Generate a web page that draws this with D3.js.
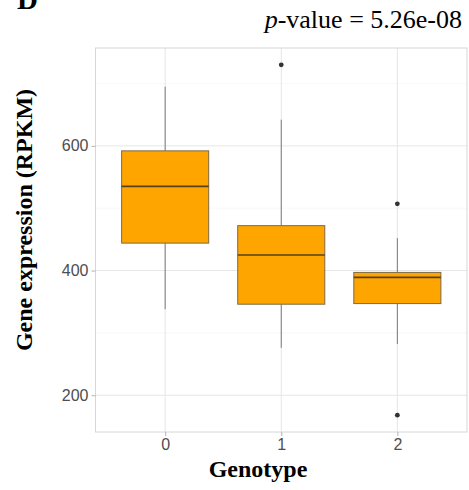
<!DOCTYPE html>
<html>
<head>
<meta charset="utf-8">
<script src="https://cdn.jsdelivr.net/npm/d3@7"></script>
<style>
  body { margin: 0; background: #fff; }
  svg { display: block; }
</style>
</head>
<body>
<script>
// box plot summary per genotype
let genotypes = ["0", "1", "2"];
let lowerWhisker = [338, 276, 282];
let q1 = [444, 346, 347];
let medians = [535, 425, 389];
let q3 = [592, 472, 397];
let upperWhisker = [695, 642, 452];
let outliers = [[], [730], [507, 168]];

let yTicks = [200, 400, 600];
let yMinor = [300, 500, 700];

let width = 469, height = 490;
let panel = {left: 95.5, right: 467, top: 48, bottom: 432};

let svg = d3.select("body").append("svg")
  .attr("width", width)
  .attr("height", height);

let x = d3.scalePoint().domain(genotypes).range([panel.left, panel.right]).padding(0.6);
let y = d3.scaleLinear().domain([141, 757]).range([panel.bottom, panel.top]);
let boxW = x.step() * 0.75;

// grid
svg.append("g").selectAll("line.minor")
  .data(yMinor).enter().append("line")
  .attr("x1", panel.left).attr("x2", panel.right)
  .attr("y1", d => y(d)).attr("y2", d => y(d))
  .attr("stroke", "#f3f3f3").attr("stroke-width", 0.6);
svg.append("g").selectAll("line.major")
  .data(yTicks).enter().append("line")
  .attr("x1", panel.left).attr("x2", panel.right)
  .attr("y1", d => y(d)).attr("y2", d => y(d))
  .attr("stroke", "#e6e6e6").attr("stroke-width", 1);
svg.append("g").selectAll("line.vx")
  .data(genotypes).enter().append("line")
  .attr("x1", d => x(d)).attr("x2", d => x(d))
  .attr("y1", panel.top).attr("y2", panel.bottom)
  .attr("stroke", "#e6e6e6").attr("stroke-width", 1);

// panel border
svg.append("rect")
  .attr("x", panel.left).attr("y", panel.top)
  .attr("width", panel.right - panel.left).attr("height", panel.bottom - panel.top)
  .attr("fill", "none").attr("stroke", "#d6d6d6").attr("stroke-width", 1);

// axes
let yAxis = d3.axisLeft(y).tickValues(yTicks).tickSize(4).tickPadding(3);
let gy = svg.append("g").attr("transform", "translate(" + panel.left + ",0)").call(yAxis);
let xAxis = d3.axisBottom(x).tickSize(4).tickPadding(3);
let gx = svg.append("g").attr("transform", "translate(0," + panel.bottom + ")").call(xAxis);
[gy, gx].forEach(g => {
  g.select(".domain").remove();
  g.selectAll(".tick line").attr("stroke", "#b3b3b3");
  g.selectAll(".tick text")
    .attr("fill", "#4d4d4d")
    .style("font-family", "'Liberation Sans', Arial, sans-serif")
    .style("font-size", "16px");
});

// boxes
let rows = genotypes.map((g, i) => ({g: g, lo: lowerWhisker[i], q1: q1[i], med: medians[i], q3: q3[i], hi: upperWhisker[i], out: outliers[i]}));

let boxes = svg.append("g").selectAll("g.box").data(rows).enter().append("g");
boxes.append("line")
  .attr("x1", d => x(d.g)).attr("x2", d => x(d.g))
  .attr("y1", d => y(d.q3)).attr("y2", d => y(d.hi))
  .attr("stroke", "#7a7a7a").attr("stroke-width", 1);
boxes.append("line")
  .attr("x1", d => x(d.g)).attr("x2", d => x(d.g))
  .attr("y1", d => y(d.q1)).attr("y2", d => y(d.lo))
  .attr("stroke", "#7a7a7a").attr("stroke-width", 1);
boxes.append("rect")
  .attr("x", d => x(d.g) - boxW / 2).attr("width", boxW)
  .attr("y", d => y(d.q3)).attr("height", d => y(d.q1) - y(d.q3))
  .attr("fill", "#FFA500").attr("stroke", "#7d6a44").attr("stroke-width", 1);
boxes.append("line")
  .attr("x1", d => x(d.g) - boxW / 2).attr("x2", d => x(d.g) + boxW / 2)
  .attr("y1", d => y(d.med)).attr("y2", d => y(d.med))
  .attr("stroke", "#54421e").attr("stroke-width", 1.6);
boxes.selectAll("circle").data(d => d.out.map(v => ({g: d.g, v: v}))).enter().append("circle")
  .attr("cx", d => x(d.g)).attr("cy", d => y(d.v))
  .attr("r", 2.4).attr("fill", "#333");

// titles
svg.append("text")
  .attr("x", 258).attr("y", 477)
  .attr("text-anchor", "middle")
  .style("font-family", "'Liberation Serif', 'Times New Roman', serif")
  .style("font-weight", "bold").style("font-size", "24px")
  .text("Genotype");

svg.append("text")
  .attr("transform", "translate(32,220) rotate(-90)")
  .attr("text-anchor", "middle")
  .style("font-family", "'Liberation Serif', 'Times New Roman', serif")
  .style("font-weight", "bold").style("font-size", "24px")
  .text("Gene expression (RPKM)");

let pv = svg.append("text")
  .attr("x", 462).attr("y", 28)
  .attr("text-anchor", "end")
  .style("font-family", "'Liberation Serif', 'Times New Roman', serif")
  .style("font-size", "26px");
pv.append("tspan").style("font-style", "italic").text("p");
pv.append("tspan").text("-value = 5.26e-08");

svg.append("text")
  .attr("x", 17).attr("y", 9)
  .style("font-family", "'Liberation Serif', 'Times New Roman', serif")
  .style("font-weight", "bold").style("font-size", "29px")
  .text("D");
</script>
</body>
</html>
